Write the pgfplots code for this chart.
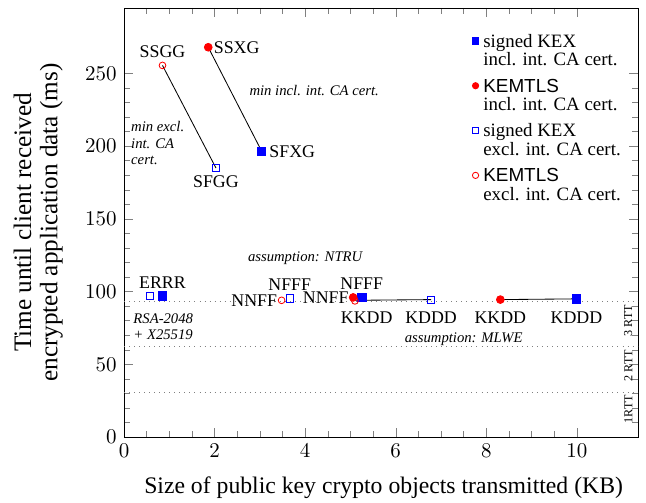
\documentclass[border=0pt]{standalone}
\usepackage{fontspec}
\setmainfont{Liberation Serif}
\setsansfont{Liberation Sans}
\usepackage{pgfplots}
\pgfplotsset{compat=1.18}
\begin{document}
\begin{tikzpicture}
\begin{axis}[
    scale only axis,
    width=245pt, height=204.5pt,
    xmin=0, xmax=11.35,
    ymin=0, ymax=295,
    xtick={0,2,...,10},
    ytick={0,50,...,250},
    minor x tick num=3,
    minor y tick num=4,
    tick label style={font=\normalsize},
    xlabel={Size of public key crypto objects transmitted (KB)},
    xlabel style={font=\fontsize{11.3}{13}\selectfont,
        at={(axis description cs:0.505,-0.117)}, anchor=center},
    ylabel={Time until client received\\encrypted application data (ms)},
    ylabel style={font=\fontsize{12}{12.5}\selectfont, align=center,
        at={(axis description cs:-0.167,0.5)}, anchor=center},
    legend style={draw=none, fill=none, at={(rel axis cs:0.677,0.95)}, anchor=north west,
        font=\fontsize{9}{8.8}\selectfont, row sep=0.8pt, inner sep=0pt,
        cells={align=left, anchor=west}},
    legend cell align=left,
    legend image code/.code={
        \path (0,-0.55em) (0.25em,0.6em);
        \draw[#1, mark size=1.5pt] plot[only marks] coordinates {(0.1em,0.5em)};
    },
]

    % RTT reference lines
    \addplot[dotted, gray, forget plot] coordinates {(0,31) (11.35,31)};
    \addplot[dotted, gray, forget plot] coordinates {(0,62) (11.35,62)};
    \addplot[dotted, gray, forget plot] coordinates {(0,93) (11.35,93)};

    % pairs
    \addplot[black, forget plot] coordinates {(0.85,255.5) (2.03,185)};
    \addplot[black, forget plot] coordinates {(1.86,268) (3.04,196.5)};
    \addplot[black, forget plot] coordinates {(5.10,94) (6.78,94.5)};
    \addplot[black, forget plot] coordinates {(8.31,94.5) (9.99,95)};

    % signed KEX incl.
    \addplot[only marks, mark=square*, blue, mark size=2pt] coordinates {
        (0.85,97) (3.04,196.5) (5.25,96) (9.99,95)
    };
    \addlegendentry{signed KEX\\incl. int. CA cert.}

    % KEMTLS incl.
    \addplot[only marks, mark=*, red, mark size=1.85pt] coordinates {
        (1.86,268) (5.06,96) (8.31,94.5)
    };
    \addlegendentry{\textsf{KEMTLS}\\incl. int. CA cert.}

    % signed KEX excl.
    \addplot[only marks, mark=square, blue, mark size=1.75pt] coordinates {
        (0.57,97) (2.03,185) (3.66,95.2) (6.78,94.5)
    };
    \addlegendentry{signed KEX\\excl. int. CA cert.}

    % KEMTLS excl.
    \addplot[only marks, mark=o, red, mark size=1.6pt] coordinates {
        (0.85,255.5) (3.48,94) (5.10,93.6)
    };
    \addlegendentry{\textsf{KEMTLS}\\excl. int. CA cert.}

    % point labels
    \begin{scope}[every node/.style={font=\fontsize{8.5}{10}\selectfont, inner sep=1.5pt}]
    \node[above=2pt] at (axis cs:0.85,255.5) {SSGG};
    \node[right=1pt] at (axis cs:1.86,268) {SSXG};
    \node[below=2pt] at (axis cs:2.03,185) {SFGG};
    \node[right=2pt] at (axis cs:3.04,196.5) {SFXG};
    \node[above=2pt] at (axis cs:0.85,97) {ERRR};
    \node[left=0.5pt] at (axis cs:3.48,94) {NNFF};
    \node[above=2pt] at (axis cs:3.66,95.2) {NFFF};
    \node[left=0.5pt] at (axis cs:5.06,96) {NNFF};
    \node[above=2pt] at (axis cs:5.25,96) {NFFF};
    \node[below=3pt] at (axis cs:5.36,93) {KKDD};
    \node[below=3pt] at (axis cs:6.78,93) {KDDD};
    \node[below=3pt] at (axis cs:8.31,93) {KKDD};
    \node[below=3pt] at (axis cs:9.99,93) {KDDD};
    \end{scope}

    % annotations
    \begin{scope}[every node/.style={font=\fontsize{7}{7.8}\selectfont\itshape, inner sep=0pt}]
    \node at (axis cs:4.2,238) {min incl. int. CA cert.};
    \node[align=left, anchor=west] at (axis cs:0.15,202) {min excl.\\int. CA\\cert.};
    \node at (axis cs:4.0,123) {assumption: NTRU};
    \node at (axis cs:7.5,67) {assumption: MLWE};
    \node[align=left, anchor=west] at (axis cs:0.2,76) {RSA-2048\\+ X25519};
    \end{scope}

    % RTT labels (rotated: local x is up, local y is left)
    \begin{scope}[every node/.style={rotate=90, anchor=south east, font=\fontsize{5.8}{6}\selectfont, inner sep=0pt}]
    \node[xshift=-1.2pt, yshift=2.5pt] at (axis cs:11.35,93) {$\mathrm{3\ RTT}$};
    \node[xshift=-1.2pt, yshift=2.5pt] at (axis cs:11.35,62) {$\mathrm{2\ RTT}$};
    \node[xshift=-1.2pt, yshift=2.5pt] at (axis cs:11.35,31) {$\mathrm{1RTT}$};
    \end{scope}

\end{axis}
\pgfresetboundingbox
\path (current axis.south west) ++(-59.1pt,-31pt) rectangle (current axis.north east) ++(3.8pt,3.8pt);
\end{tikzpicture}
\end{document}
